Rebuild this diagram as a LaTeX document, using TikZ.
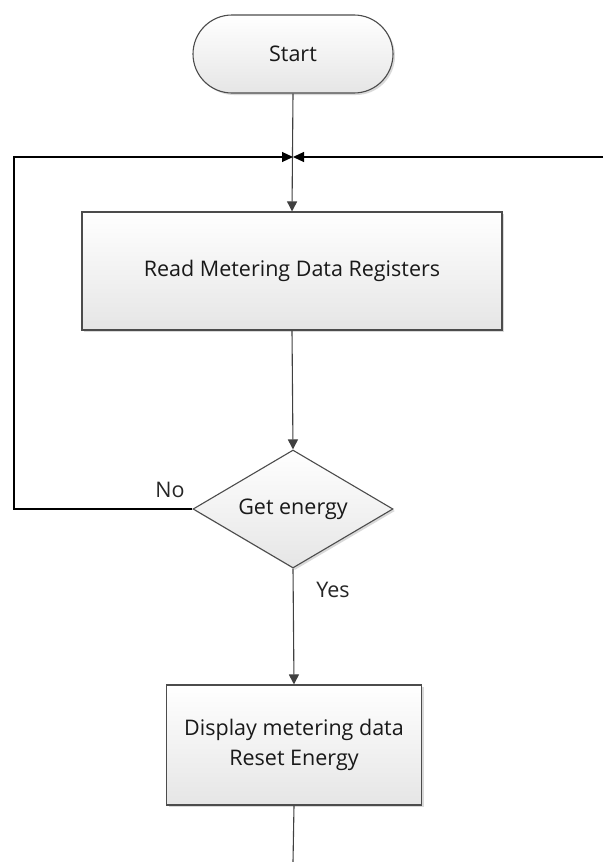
\documentclass[tikz,border=0pt]{standalone}
\usepackage{fontspec}
\setmainfont{Open Sans}
\usetikzlibrary{shapes.geometric,shapes.misc,arrows.meta,shadows}
\begin{document}
\begin{tikzpicture}[x=1pt,y=-1pt,
  font=\fontsize{21.5}{30}\selectfont,
  shape fill/.style={top color=white,bottom color=black!10,draw=black!70,line width=1.1pt,
    drop shadow={shadow xshift=2pt,shadow yshift=-2pt,opacity=0.15,fill=black}},
  terminal/.style={shape fill,rounded rectangle,minimum width=200pt,minimum height=78pt,inner sep=0pt},
  procbox/.style={shape fill,rectangle,inner sep=0pt,align=center},
  decision/.style={shape fill,diamond,minimum width=200pt,minimum height=118pt,inner sep=0pt},
  flow/.style={draw=black!75,line width=1.1pt,-{Triangle[length=10pt,width=10pt]}},
  loop/.style={draw=black,line width=1.1pt},
  lbl/.style={inner sep=0pt,text=black!85},
  txt/.style={text=black!90}
]
\useasboundingbox (0,0) rectangle (603,862);
\node[terminal,txt] (start) at (293,54) {Start};
\node[procbox,txt,minimum width=420pt,minimum height=118pt] (read) at (292,271) {Read Metering Data Registers};
\node[decision,label={[txt]center:Get energy}] (dec) at (293,509) {};
\node[procbox,txt,minimum width=255pt,minimum height=120pt] (disp) at (294,745) {Display metering data\\Reset Energy};
\coordinate (join) at (293,157);
\coordinate (lc) at (14,157);
\coordinate (lb) at (14,509);
\coordinate (rc) at (603,157);
\coordinate (bot) at (293,862);
\node[lbl] (no) at (170,490) {No};
\node[lbl] (yes) at (333,590) {Yes};
\draw[flow] (start.south) -- (read.north);
\draw[flow] (read.south) -- (dec.north);
\draw[flow] (dec.south) -- (disp.north);
\draw[loop,-{Triangle[length=11pt,width=10pt]}] (dec.west) -- (lb) -- (lc) -- (join);
\draw[loop,-{Triangle[length=11pt,width=10pt]}] (rc) -- (join);
\draw[flow,-] (disp.south) -- (bot);
\end{tikzpicture}
\end{document}
